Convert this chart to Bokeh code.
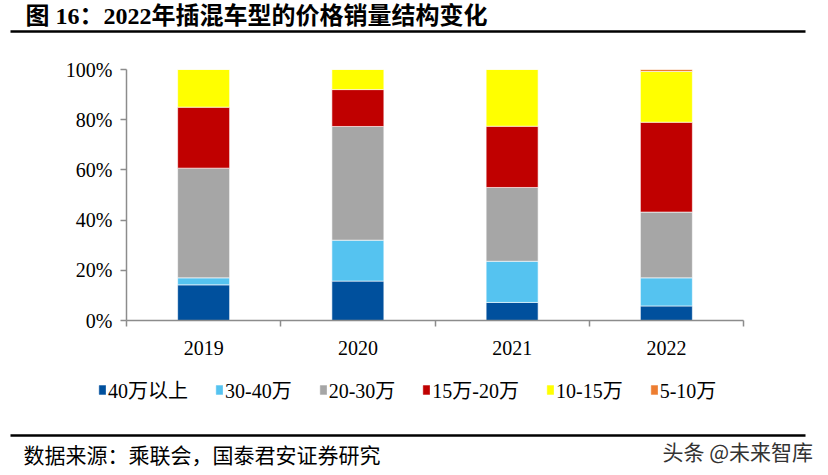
from bokeh.plotting import figure
from bokeh.models import (ColumnDataSource, FixedTicker, PrintfTickFormatter, Range1d,
                          Legend, LegendItem)
from bokeh.layouts import column
from bokeh.core.properties import value
from bokeh.embed import file_html
from bokeh.resources import INLINE

# ---- data (shares in %) ----
categories = ["2019", "2020", "2021", "2022"]
series = ["40万以上", "30-40万", "20-30万", "15万-20万", "10-15万", "5-10万"]
v_40plus = [14.2, 15.7, 7.2, 5.8]
v_30_40 = [2.8, 16.3, 16.4, 11.2]
v_20_30 = [43.7, 45.3, 29.4, 26.2]
v_15_20 = [24.3, 14.7, 24.4, 35.8]
v_10_15 = [15.0, 8.0, 22.6, 20.2]
v_5_10 = [0.0, 0.0, 0.0, 0.8]
y_ticks = [0, 20, 40, 60, 80, 100]

colors = ["#00509d", "#55c3f0", "#a6a6a6", "#c00000", "#ffff00", "#ed7d31"]

title_text = "图 16：2022年插混车型的价格销量结构变化"
source_text = "数据来源：乘联会，国泰君安证券研究"
mark_text = "头条 @未来智库"

SERIF = "Liberation Serif, Noto Sans CJK SC"
CJK = "Noto Sans CJK SC"
W = 828


def blank(height):
    f = figure(width=W, height=height, output_backend="svg", toolbar_location=None,
               x_range=Range1d(0, W), y_range=Range1d(height, 0), tools="",
               x_axis_location=None, y_axis_location=None,
               min_border=0, min_border_left=0, min_border_right=0,
               min_border_top=0, min_border_bottom=0, frame_align=False)
    f.outline_line_color = None
    f.xgrid.grid_line_color = None
    f.ygrid.grid_line_color = None
    return f


# ---- header ----
head = blank(40)
head.text(x=[25], y=[15], text=[title_text], text_font=value(SERIF),
          text_font_style="bold", text_font_size="24px", text_baseline="middle",
          text_color="black")
head.segment(x0=[10], y0=[31], x1=[805], y1=[31], line_width=2.5, line_color="black")

# ---- main chart ----
centers = [i + 0.5 for i in range(len(categories))]
bounds = [float(i) for i in range(len(categories) + 1)]

data = {"x": centers}
for name, vals in zip(series, [v_40plus, v_30_40, v_20_30, v_15_20, v_10_15, v_5_10]):
    data[name] = vals
src = ColumnDataSource(data)

p = figure(width=W, height=325, output_backend="svg", toolbar_location=None,
           x_range=Range1d(0, len(categories)), y_range=Range1d(0, 100),
           min_border_left=126, min_border_right=85, min_border_top=29,
           min_border_bottom=45, tools="", frame_align=False)
p.outline_line_color = None
p.xgrid.grid_line_color = None
p.ygrid.grid_line_color = None

p.vbar_stack(series, x="x", width=0.337, color=colors, source=src,
             line_color="white", line_width=0.6)

p.yaxis.ticker = FixedTicker(ticks=y_ticks)
p.yaxis.formatter = PrintfTickFormatter(format="%d%%")
p.yaxis.axis_line_color = "#8c8c8c"
p.yaxis.axis_line_width = 1.5
p.yaxis.major_tick_line_color = "#8c8c8c"
p.yaxis.major_tick_line_width = 1.5
p.yaxis.major_tick_out = 6
p.yaxis.major_tick_in = 0
p.yaxis.minor_tick_line_color = None
p.yaxis.major_label_text_font = SERIF
p.yaxis.major_label_text_font_size = "20px"
p.yaxis.major_label_text_color = "black"
p.yaxis.major_label_standoff = 8

p.xaxis.ticker = FixedTicker(ticks=centers, minor_ticks=bounds)
p.xaxis.major_label_overrides = {c: lab for c, lab in zip(centers, categories)}
p.xaxis.axis_line_color = "#8c8c8c"
p.xaxis.axis_line_width = 1.5
p.xaxis.major_tick_line_color = None
p.xaxis.major_tick_out = 0
p.xaxis.major_tick_in = 0
p.xaxis.minor_tick_line_color = "#8c8c8c"
p.xaxis.minor_tick_line_width = 1.5
p.xaxis.minor_tick_out = 6
p.xaxis.minor_tick_in = 0
p.xaxis.major_label_text_font = SERIF
p.xaxis.major_label_text_font_size = "20px"
p.xaxis.major_label_text_color = "black"
p.xaxis.major_label_standoff = 14

# ---- footer: legend, rule, source, watermark ----
FH = 110
foot = blank(FH)
# legend-only renderers (one NaN row so the swatch is drawn, no visible bar)
swatch = ColumnDataSource({"x": [float("nan")], "top": [float("nan")]})
items = []
for name, c in zip(series, colors):
    r = foot.vbar(x="x", top="top", width=1, source=swatch, fill_color=c,
                  line_color=c, line_width=0.6)
    items.append(LegendItem(label=name, renderers=[r]))
lg = Legend(items=items, orientation="horizontal", location=(98, 71),
            padding=0, margin=0, spacing=27, glyph_width=8, glyph_height=11,
            label_standoff=2, label_text_font=SERIF, label_text_font_size="20px",
            label_text_color="black", border_line_color=None,
            background_fill_alpha=0)
foot.add_layout(lg, "center")
foot.segment(x0=[10], y0=[70], x1=[805], y1=[70], line_width=2.5, line_color="black")
foot.text(x=[23], y=[88], text=[source_text], text_font=value(CJK),
          text_font_size="21px", text_baseline="middle", text_color="black")
foot.text(x=[662], y=[85], text=[mark_text], text_font=value(CJK),
          text_font_size="21px", text_baseline="middle", text_color="#333333")

layout = column(head, p, foot, spacing=0)
open("out.html", "w").write(file_html(layout, INLINE))
